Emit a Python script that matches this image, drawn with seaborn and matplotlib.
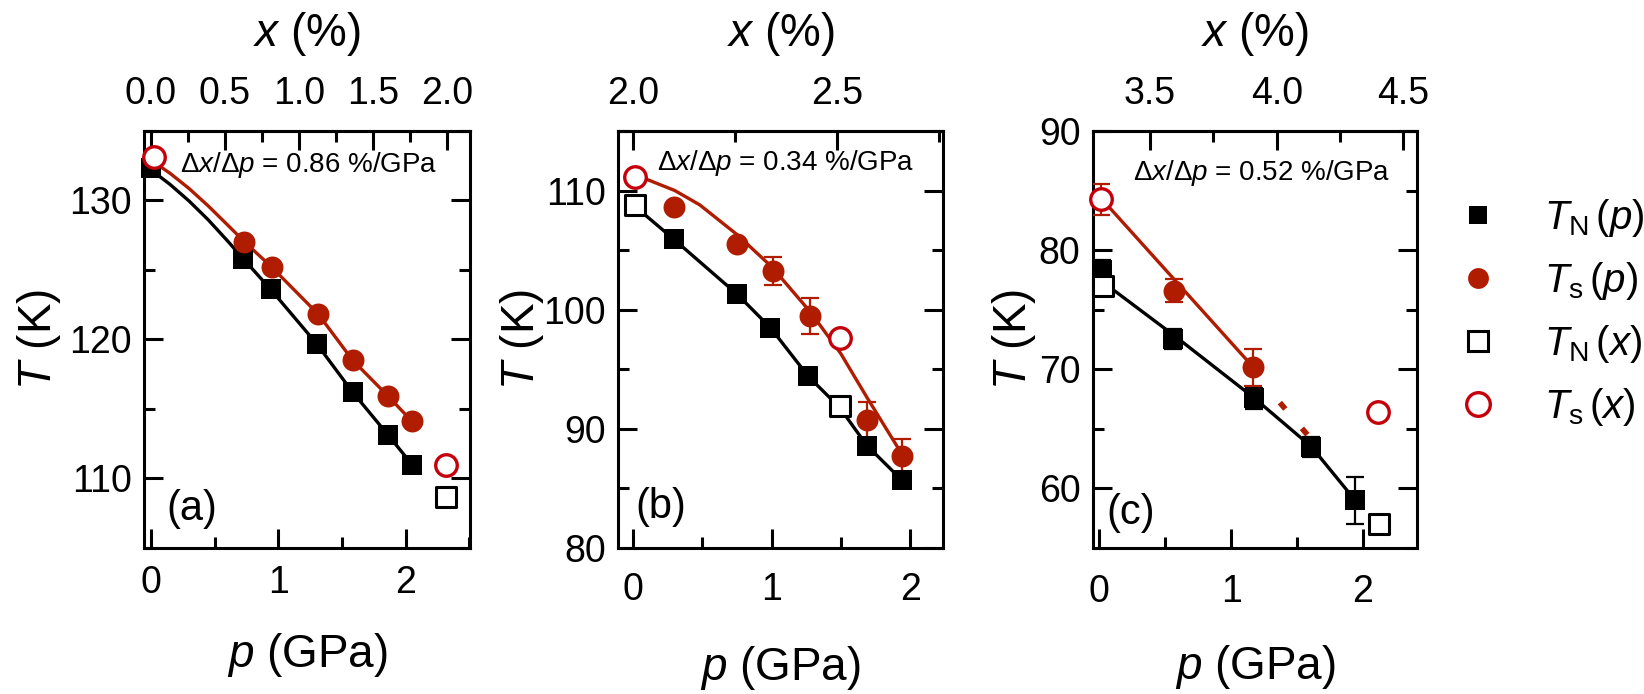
import matplotlib

matplotlib.use("Agg")

import matplotlib.pyplot as plt
import seaborn as sns
from matplotlib.lines import Line2D
from matplotlib.ticker import FormatStrFormatter, MultipleLocator

BLACK = "#000000"
RED = "#b01c00"
RED_OPEN = "#c4000a"

# ---- panel (a) ----
A_TN_P = [0.0, 0.72, 0.94, 1.30, 1.584, 1.864, 2.05]
A_TN_T = [132.3, 125.8, 123.6, 119.7, 116.2, 113.1, 111.0]
A_TS_P = [0.731, 0.948, 1.315, 1.584, 1.864, 2.05]
A_TS_T = [127.0, 125.2, 121.8, 118.5, 115.9, 114.1]
A_TNX_P = [2.32]
A_TNX_T = [108.7]
A_TSX_P = [0.02, 2.32]
A_TSX_T = [133.1, 111.0]
A_TN_LINE_P = [0.0, 0.15, 0.3, 0.45, 0.6, 0.72, 0.94, 1.30, 1.584, 1.864, 2.05]
A_TN_LINE_T = [132.2, 131.15, 129.95, 128.6, 127.1, 125.85, 123.6, 119.7, 116.2, 113.1, 111.0]
A_TS_LINE_P = [0.0, 0.15, 0.3, 0.45, 0.6, 0.731, 0.948, 1.315, 1.584, 1.864, 2.05]
A_TS_LINE_T = [132.9, 131.95, 130.85, 129.6, 128.25, 127.05, 125.2, 121.8, 118.5, 115.9, 114.1]
A_X_TICKS = [0.0, 0.5, 1.0, 1.5, 2.0]
A_X_MINOR = [0.25, 0.75, 1.25, 1.75]

# ---- panel (b) ----
B_TN_P = [0.294, 0.75, 0.99, 1.265, 1.688, 1.94]
B_TN_T = [105.9, 101.3, 98.5, 94.4, 88.6, 85.7]
B_TS_P = [0.294, 0.75, 1.008, 1.277, 1.688, 1.94]
B_TS_T = [108.6, 105.5, 103.25, 99.45, 90.7, 87.7]
B_TS_ERR = [0, 0, 1.2, 1.5, 1.55, 1.45]
B_TNX_P = [0.012, 1.493]
B_TNX_T = [108.75, 91.95]
B_TSX_P = [0.012, 1.493]
B_TSX_T = [111.15, 97.6]
B_TN_LINE_P = [0.02, 0.294, 0.75, 0.99, 1.265, 1.49, 1.688, 1.94]
B_TN_LINE_T = [108.6, 105.9, 101.3, 98.5, 94.4, 91.8, 88.6, 85.7]
B_TS_LINE_P = [0.02, 0.3, 0.48, 0.75, 1.0, 1.28, 1.5, 1.69, 1.95]
B_TS_LINE_T = [111.3, 110.0, 108.8, 106.3, 103.6, 99.8, 96.3, 92.6, 87.7]
B_X_TICKS = [2.0, 2.5]
B_X_MINOR = [2.25, 2.75]

# ---- panel (c) ----
C_TN_P = [0.018, 0.56, 1.174, 1.609, 1.938]
C_TN_T = [78.3, 72.55, 67.55, 63.5, 59.0]
C_TN_ERR = [0.9, 0.85, 0.85, 0.85, 1.95]
C_TS_P = [0.01, 0.566, 1.17]
C_TS_T = [84.25, 76.6, 70.15]
C_TS_ERR = [1.3, 0.97, 1.55]
C_TNX_P = [0.03, 2.12]
C_TNX_T = [77.0, 57.05]
C_TSX_P = [0.01, 2.114]
C_TSX_T = [84.25, 66.45]
C_TN_LINE_P = [0.03, 0.56, 1.174, 1.609, 1.938]
C_TN_LINE_T = [77.3, 72.9, 67.6, 63.5, 59.05]
C_TS_LINE_P = [0.01, 1.17]
C_TS_LINE_T = [84.4, 70.15]
C_TS_DASH_P = [1.37, 1.645]
C_TS_DASH_T = [67.2, 63.65]
C_X_TICKS = [3.5, 4.0, 4.5]
C_X_MINOR = [3.75, 4.25]

LEGEND_LABELS = [r"$T_{\rm N}\,(p)$", r"$T_{\rm s}\,(p)$", r"$T_{\rm N}\,(x)$", r"$T_{\rm s}\,(x)$"]

PANELS = [
    dict(
        rect=[0.0876, 0.2104, 0.1983, 0.6009], xlim=(-0.055, 2.505), ylim=(105, 135),
        x0=0.0, k=0.86, xticks=A_X_TICKS, xminor=A_X_MINOR,
        note=r"$\Delta x/\Delta p$ = 0.86 %/GPa", note_xy=(0.11, 0.918),
        tag="(a)", tag_xy=(0.07, 0.094), bpad=12,
        ylab_x=-0.247, xlab_y=-0.199,
        tn=(A_TN_P, A_TN_T, None), ts=(A_TS_P, A_TS_T, None),
        tnx=(A_TNX_P, A_TNX_T), tsx=(A_TSX_P, A_TSX_T),
        tn_line=(A_TN_LINE_P, A_TN_LINE_T), ts_line=(A_TS_LINE_P, A_TS_LINE_T), dash=None,
    ),
    dict(
        rect=[0.3761, 0.2104, 0.1977, 0.6009], xlim=(-0.108, 2.24), ylim=(80, 115),
        x0=2.0, k=0.34, xticks=B_X_TICKS, xminor=B_X_MINOR,
        note=r"$\Delta x/\Delta p$ = 0.34 %/GPa", note_xy=(0.118, 0.923),
        tag="(b)", tag_xy=(0.051, 0.098), bpad=17,
        ylab_x=-0.222, xlab_y=-0.231,
        tn=(B_TN_P, B_TN_T, None), ts=(B_TS_P, B_TS_T, B_TS_ERR),
        tnx=(B_TNX_P, B_TNX_T), tsx=(B_TSX_P, B_TSX_T),
        tn_line=(B_TN_LINE_P, B_TN_LINE_T), ts_line=(B_TS_LINE_P, B_TS_LINE_T), dash=None,
    ),
    dict(
        rect=[0.6648, 0.2104, 0.1971, 0.6009], xlim=(-0.048, 2.41), ylim=(55, 90),
        x0=3.3, k=0.52, xticks=C_X_TICKS, xminor=C_X_MINOR,
        note=r"$\Delta x/\Delta p$ = 0.52 %/GPa", note_xy=(0.124, 0.898),
        tag="(c)", tag_xy=(0.042, 0.085), bpad=19,
        ylab_x=-0.17, xlab_y=-0.229,
        tn=(C_TN_P, C_TN_T, C_TN_ERR), ts=(C_TS_P, C_TS_T, C_TS_ERR),
        tnx=(C_TNX_P, C_TNX_T), tsx=(C_TSX_P, C_TSX_T),
        tn_line=(C_TN_LINE_P, C_TN_LINE_T), ts_line=(C_TS_LINE_P, C_TS_LINE_T),
        dash=(C_TS_DASH_P, C_TS_DASH_T),
    ),
]


def add_errors(ax, p, t, err, color):
    if err is None:
        return
    keep = [i for i, e in enumerate(err) if e > 0]
    ax.errorbar([p[i] for i in keep], [t[i] for i in keep], yerr=[err[i] for i in keep],
                fmt="none", ecolor=color, elinewidth=1.6, capsize=6.5, capthick=1.6, zorder=3)


def draw_panel(fig, spec):
    ax = fig.add_axes(spec["rect"])

    sns.lineplot(x=spec["tn_line"][0], y=spec["tn_line"][1], color=BLACK, linewidth=2.4,
                 sort=False, estimator=None, ax=ax, zorder=2)
    sns.lineplot(x=spec["ts_line"][0], y=spec["ts_line"][1], color=RED, linewidth=2.4,
                 sort=False, estimator=None, ax=ax, zorder=2)
    if spec["dash"] is not None:
        sns.lineplot(x=spec["dash"][0], y=spec["dash"][1], color=RED, linewidth=4,
                     linestyle=(0, (1.5, 4.6)), sort=False, estimator=None, ax=ax, zorder=2)

    tn_p, tn_t, tn_err = spec["tn"]
    ts_p, ts_t, ts_err = spec["ts"]
    add_errors(ax, tn_p, tn_t, tn_err, BLACK)
    add_errors(ax, ts_p, ts_t, ts_err, RED)

    sns.scatterplot(x=tn_p, y=tn_t, marker="s", s=205, color=BLACK, linewidth=0,
                    ax=ax, zorder=4, clip_on=False)
    sns.scatterplot(x=ts_p, y=ts_t, marker="o", s=250, color=RED, linewidth=0,
                    ax=ax, zorder=4, clip_on=False)
    sns.scatterplot(x=spec["tnx"][0], y=spec["tnx"][1], marker="s", s=200, color="white",
                    edgecolor=BLACK, linewidth=2.2, ax=ax, zorder=5, clip_on=False)
    sns.scatterplot(x=spec["tsx"][0], y=spec["tsx"][1], marker="o", s=240, color="white",
                    edgecolor=RED_OPEN, linewidth=2.4, ax=ax, zorder=5, clip_on=False)

    ax.set_xlim(*spec["xlim"])
    ax.set_ylim(*spec["ylim"])
    ax.xaxis.set_major_locator(MultipleLocator(1))
    ax.xaxis.set_minor_locator(MultipleLocator(0.5))
    ax.yaxis.set_major_locator(MultipleLocator(10))
    ax.yaxis.set_minor_locator(MultipleLocator(5))
    ax.tick_params(which="both", direction="in", top=False, right=True, width=2.2, labelsize=27)
    ax.tick_params(which="major", length=13.5)
    ax.tick_params(which="minor", length=8)
    ax.tick_params(axis="y", pad=9)
    ax.tick_params(axis="x", pad=spec["bpad"])
    for sp in ax.spines.values():
        sp.set_linewidth(2.2)
        sp.set_visible(True)

    ax.set_xlabel(r"$p$ (GPa)", fontsize=33)
    ax.set_ylabel(r"$T$ (K)", fontsize=33)
    ax.xaxis.set_label_coords(0.5, spec["xlab_y"])
    ax.yaxis.set_label_coords(spec["ylab_x"], 0.5)

    x0, k = spec["x0"], spec["k"]
    sec = ax.secondary_xaxis("top", functions=(lambda p: x0 + k * p, lambda x: (x - x0) / k))
    sec.set_xticks(spec["xticks"])
    sec.set_xticks(spec["xminor"], minor=True)
    sec.xaxis.set_major_formatter(FormatStrFormatter("%.1f"))
    sec.tick_params(which="both", direction="in", width=2.2, labelsize=27, pad=14)
    sec.tick_params(which="major", length=13.5)
    sec.tick_params(which="minor", length=8)
    sec.spines["top"].set_linewidth(2.2)
    sec.set_xlabel(r"$x$ (%)", fontsize=33, labelpad=21)

    ax.text(*spec["note_xy"], spec["note"], transform=ax.transAxes, fontsize=20,
            ha="left", va="center")
    ax.text(*spec["tag_xy"], spec["tag"], transform=ax.transAxes, fontsize=30,
            ha="left", va="center")
    return ax


def main() -> None:
    sns.set_style("ticks")
    plt.rcParams.update({
        "font.family": ["Liberation Sans", "DejaVu Sans"],
        "mathtext.fontset": "custom",
        "mathtext.rm": "Liberation Sans",
        "mathtext.it": "Liberation Sans:italic",
        "mathtext.bf": "Liberation Sans:bold",
        "text.color": BLACK,
        "axes.labelcolor": BLACK,
        "xtick.color": BLACK,
        "ytick.color": BLACK,
        "axes.edgecolor": BLACK,
    })

    fig = plt.figure(figsize=(16.44, 6.94), dpi=100)
    for spec in PANELS:
        draw_panel(fig, spec)

    handles = [
        Line2D([], [], ls="none", marker="s", ms=13, color=BLACK, mew=0),
        Line2D([], [], ls="none", marker="o", ms=15, color=RED, mew=0),
        Line2D([], [], ls="none", marker="s", ms=15, mfc="white", mec=BLACK, mew=2.2),
        Line2D([], [], ls="none", marker="o", ms=17, mfc="white", mec=RED_OPEN, mew=2.4),
    ]
    fig.legend(handles, LEGEND_LABELS, loc="upper left", bbox_to_anchor=(0.8866, 0.716),
               frameon=False, fontsize=29, handlelength=1.0, handletextpad=1.15,
               labelspacing=0.52, borderpad=0, borderaxespad=0)

    fig.savefig("out.png", dpi=100)
    plt.close(fig)


if __name__ == "__main__":
    main()
